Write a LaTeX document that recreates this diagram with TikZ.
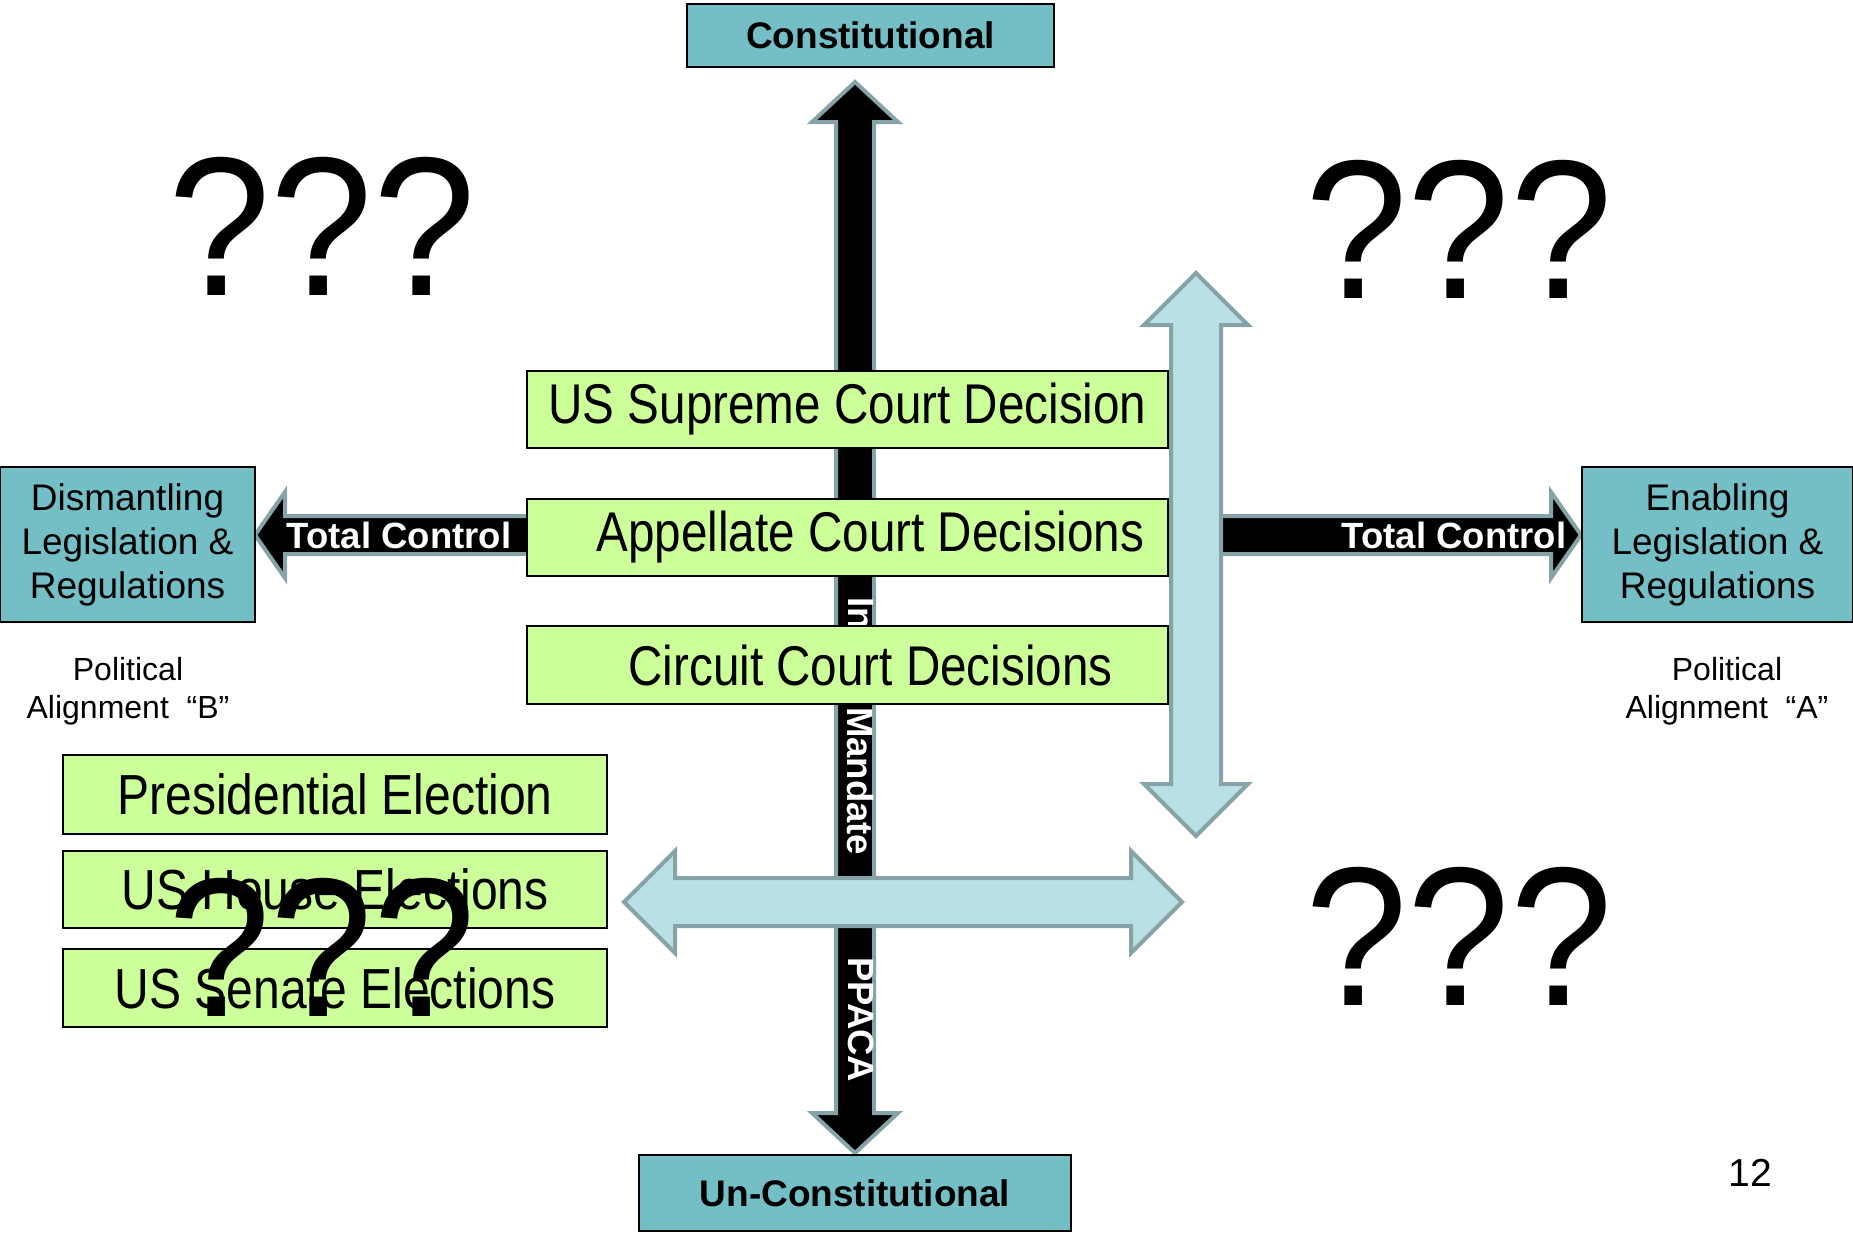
\documentclass[tikz,border=0pt]{standalone}
\usepackage{fontspec}
\setmainfont{Liberation Sans}
\newfontfamily\narrowfont[FakeStretch=0.85]{Liberation Sans}
\newfontfamily\queryfont[FakeStretch=0.93]{Liberation Sans}
\usepackage{tikz}
\definecolor{boxTeal}{RGB}{116,190,197}
\definecolor{boxGreen}{RGB}{204,255,153}
\definecolor{arrowBlue}{RGB}{185,224,228}
\definecolor{arrowGrey}{RGB}{134,164,168}
\newcommand{\fsz}[2]{\fontsize{#1}{#2}\selectfont}

\begin{document}
\begin{tikzpicture}[x=1pt, y=-1pt]%
  \tikzset{black arrow/.style={fill=black, draw=arrowGrey, line width=4pt},
           blue arrow/.style={fill=arrowBlue, draw=arrowGrey, line width=4pt},
           teal box/.style={rectangle, draw=black, fill=boxTeal, line width=2pt, align=center},
           green box/.style={rectangle, draw=black, fill=boxGreen, line width=1.5pt, font=\narrowfont\fsz{56}{60}},
           bar label/.style={text=white, font=\bfseries\fsz{36.5}{40}},
           down label/.style={bar label, rotate=-90, anchor=west},
           query/.style={anchor=base, font=\queryfont\fsz{198}{200}}}
  \tikzstyle{every node}=[inner sep=0pt, outer sep=0pt, text=black]
  \useasboundingbox (0,0) rectangle (1853,1235);

  % vertical axis
  \draw[black arrow] (855,82) -- (898,122) -- (874,122) -- (874,1113) -- (898,1113) -- (855,1153)
    -- (812,1113) -- (836,1113) -- (836,122) -- (812,122) -- cycle;
  % total control bars
  \draw[black arrow] (255,535) -- (285,492) -- (285,516) -- (540,516) -- (540,554) -- (285,554) -- (285,578) -- cycle;
  \draw[black arrow] (1581,535) -- (1551,492) -- (1551,516) -- (1200,516) -- (1200,554) -- (1551,554) -- (1551,578) -- cycle;

  \node[down label] at (861,597) (inlbl) {In};
  \node[down label] at (861,707) (mandate) {Mandate};
  \node[down label] at (861,957) (ppaca) {PPACA};

  \node[teal box, minimum width=367pt, minimum height=63pt, font=\bfseries\fsz{37}{40}] at (870.5,35.5) (const) {Constitutional};
  \node[teal box, minimum width=432pt, minimum height=76pt, font=\bfseries\fsz{37}{40}] at (855,1193) (unconst) {Un-Constitutional};

  \node[green box, minimum width=641pt, minimum height=77pt] at (847.5,409.5) (supreme) {US Supreme Court Decision};
  \node[green box, minimum width=641pt, minimum height=77pt] at (847.5,537.5) (appellate) {\hspace*{46pt}Appellate Court Decisions};
  \node[green box, minimum width=641pt, minimum height=78pt] at (847.5,665) (circuit) {\hspace*{46pt}Circuit Court Decisions};

  \draw[blue arrow] (1196,273) -- (1248,325) -- (1221,325) -- (1221,784) -- (1248,784) -- (1196,836)
    -- (1144,784) -- (1171,784) -- (1171,325) -- (1144,325) -- cycle;
  \draw[blue arrow] (624,902) -- (675,851) -- (675,878) -- (1131,878) -- (1131,851) -- (1182,902)
    -- (1131,953) -- (1131,926) -- (675,926) -- (675,953) -- cycle;

  \node[teal box, minimum width=255pt, minimum height=155pt, font=\fsz{37}{44}] at (127.5,544.5) (dism) {Dismantling\\Legislation \&\\Regulations};
  \node[teal box, minimum width=271pt, minimum height=155pt, font=\fsz{37}{44}] at (1717.5,544.5) (enab) {Enabling\\Legislation \&\\Regulations};

  \node[bar label] at (399,535) (tcleft) {Total Control};
  \node[bar label] at (1454,535) (tcright) {Total Control};

  \node[align=center, font=\fsz{32}{38}] at (128,691) (polB) {Political\\Alignment~~“B”};
  \node[align=center, font=\fsz{32}{38}] at (1727,691) (polA) {Political\\Alignment~~“A”};

  \node[green box, minimum width=544pt, minimum height=79pt, font=\narrowfont\fsz{56.5}{60}] at (335,794.5) (pres) {Presidential Election};
  \node[green box, minimum width=544pt, minimum height=77pt, font=\narrowfont\fsz{56.5}{60}] at (335,889.5) (house) {US House Elections};
  \node[green box, minimum width=544pt, minimum height=78pt, font=\narrowfont\fsz{56.5}{60}] at (335,988) (senate) {US Senate Elections};

  \node[query] at (322,295) (qtl) {???};
  \node[query] at (1459,298) (qtr) {???};
  \node[query] at (1459,1005) (qbr) {???};
  \node[query] at (322,1016) (qbl) {???};

  \node[anchor=base, font=\fsz{39}{40}] at (1750,1186) (pagenum) {12};
\end{tikzpicture}
\end{document}
